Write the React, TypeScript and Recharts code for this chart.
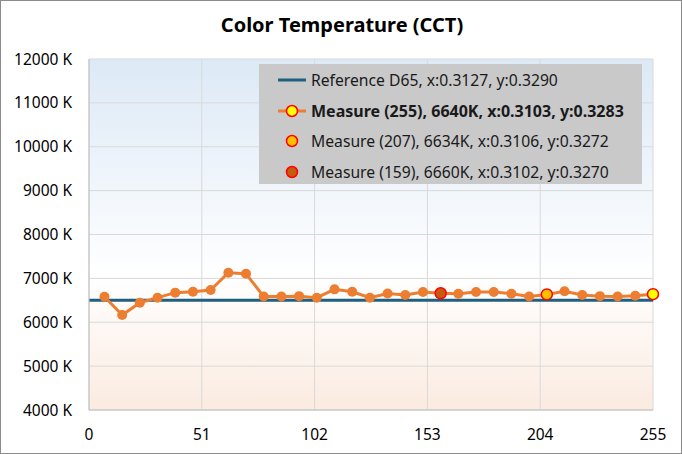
import React from 'react';
import { LineChart, Line, XAxis, YAxis, CartesianGrid, ReferenceLine } from 'recharts';

// input levels (0..255) and the measured CCT at each one
const levels = [7, 15, 23, 31, 39, 47, 55, 63, 71, 79, 87, 95, 103, 111, 119, 127, 135, 143, 151, 159, 167, 175, 183, 191, 199, 207, 215, 223, 231, 239, 247, 255];
const cct = [6580, 6165, 6445, 6560, 6675, 6695, 6735, 7130, 7105, 6585, 6585, 6595, 6560, 6750, 6695, 6560, 6655, 6620, 6690, 6660, 6650, 6690, 6690, 6650, 6585, 6634, 6705, 6620, 6595, 6585, 6605, 6640];

const D65 = 6500;
const xTicks = [0, 51, 102, 153, 204, 255];
const yTicks = [4000, 5000, 6000, 7000, 8000, 9000, 10000, 11000, 12000];

// highlighted measures: level -> fill colour
const highlights: Record<number, string> = { 159: '#c55a11', 207: '#ffc000', 255: '#ffff00' };

const legendItems = [
  { label: 'Reference D65, x:0.3127, y:0.3290', kind: 'ref' },
  { label: 'Measure (255), 6640K, x:0.3103, y:0.3283', kind: 'main' },
  { label: 'Measure (207), 6634K, x:0.3106, y:0.3272', kind: 'dot', fill: '#ffc000' },
  { label: 'Measure (159), 6660K, x:0.3102, y:0.3270', kind: 'dot', fill: '#c55a11' },
];

const data = levels.map((l, i) => ({ level: l, cct: cct[i] }));

const FONT = '"Noto Sans", sans-serif';
const ORANGE = '#ed7d31';
const BLUE = '#1f5f7f';

const Dot = (props: any) => {
  const { cx, cy, payload } = props;
  const hl = highlights[payload.level];
  if (hl) {
    return <circle key={payload.level} cx={cx} cy={cy} r={5.5} fill={hl} stroke="#ff0000" strokeWidth={1.5} />;
  }
  return <circle key={payload.level} cx={cx} cy={cy} r={5} fill={ORANGE} stroke="none" />;
};

const LegendBox = () => (
  <div style={{
    position: 'absolute', left: 258, top: 63, width: 383, height: 120,
    background: '#c9c9ca', fontFamily: FONT, fontSize: 15.7, color: '#1a1a1a',
  }}>
    {legendItems.map((it, i) => (
      <div key={i} style={{ position: 'absolute', left: 0, top: 5 + i * 30.5, height: 22, display: 'flex', alignItems: 'center' }}>
        <svg width={52} height={22} style={{ display: 'block' }}>
          {it.kind === 'ref' && <line x1={19} x2={47} y1={11} y2={11} stroke={BLUE} strokeWidth={3} />}
          {it.kind === 'main' && (
            <>
              <line x1={19} x2={47} y1={11} y2={11} stroke={ORANGE} strokeWidth={3} />
              <circle cx={33} cy={11} r={5.5} fill="#ffff00" stroke="#ff0000" strokeWidth={1.5} />
            </>
          )}
          {it.kind === 'dot' && <circle cx={33} cy={11} r={5.5} fill={it.fill} stroke="#ff0000" strokeWidth={1.5} />}
        </svg>
        <span style={{ fontWeight: it.kind === 'main' ? 700 : 400, fontSize: it.kind === 'main' ? 16 : 15.7, whiteSpace: 'nowrap' }}>{it.label}</span>
      </div>
    ))}
  </div>
);

export default function App() {
  return (
    <div style={{ position: 'absolute', left: 0, top: 0, width: 682, height: 454, boxSizing: 'border-box', border: '1px solid #8c8c8c', background: '#fff' }}>
      <div style={{ position: 'absolute', left: 0, top: 10, width: 682, textAlign: 'center', fontFamily: FONT, fontWeight: 700, fontSize: 20, color: '#000' }}>
        Color Temperature (CCT)
      </div>
      <div style={{ position: 'absolute', left: -1, top: -1 }}>
        <LineChart width={682} height={454} data={data} margin={{ top: 59, right: 29, bottom: 0, left: 0 }}>
          <defs>
            <linearGradient id="bg" x1="0" y1="0" x2="0" y2="1">
              <stop offset="0%" stopColor="#dce9f6" />
              <stop offset="62%" stopColor="#ffffff" />
              <stop offset="100%" stopColor="#fbebe1" />
            </linearGradient>
          </defs>
          <CartesianGrid stroke="#d9d9d9" fill="url(#bg)" horizontalValues={yTicks} verticalValues={xTicks} />
          <XAxis
            dataKey="level" type="number" domain={[0, 255]} ticks={xTicks}
            axisLine={{ stroke: '#bfbfbf' }} tickLine={false} tickMargin={13} height={44}
            tick={{ fontFamily: FONT, fontSize: 15.5, fill: '#000' }}
          />
          <YAxis
            type="number" domain={[4000, 12000]} ticks={yTicks} width={89}
            axisLine={{ stroke: '#bfbfbf' }} tickLine={false} tickMargin={11}
            tickFormatter={(v: number) => `${v} K`}
            tick={{ fontFamily: FONT, fontSize: 15.5, fill: '#000' }}
          />
          <ReferenceLine y={D65} stroke={BLUE} strokeWidth={3} />
          <Line dataKey="cct" stroke={ORANGE} strokeWidth={3} dot={<Dot />} activeDot={false} isAnimationActive={false} />
        </LineChart>
      </div>
      <LegendBox />
    </div>
  );
}
